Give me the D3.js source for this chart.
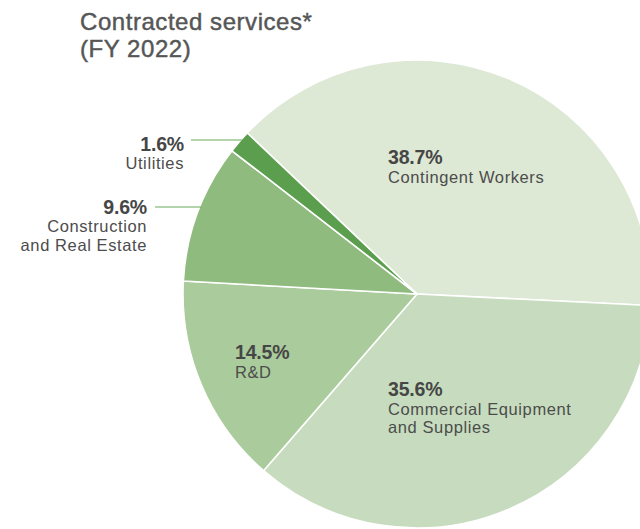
<!DOCTYPE html>
<html>
<head>
<meta charset="utf-8">
<script src="https://cdn.jsdelivr.net/npm/d3@7"></script>
<style>
  html, body { margin: 0; padding: 0; background: #fff; }
  svg { display: block; }
  .title { font-family: "Liberation Sans", Arial, sans-serif; font-size: 24px; letter-spacing: 0.55px; fill: #565656; stroke: #565656; stroke-width: 0.45px; }
  .pct { font-family: "Liberation Sans", Arial, sans-serif; font-weight: bold; font-size: 19.5px; letter-spacing: -0.2px; fill: #464646; }
  .name { font-family: "Liberation Sans", Arial, sans-serif; font-size: 16.5px; letter-spacing: 0.6px; fill: #4c4c4c; }
</style>
</head>
<body>
<svg id="chart" width="640" height="529"></svg>
<script>
// Contracted services share by category, FY 2022
const categories = ["Contingent Workers", "Commercial Equipment and Supplies", "R&D", "Construction and Real Estate", "Utilities"];
const shares = [38.7, 35.6, 14.5, 9.6, 1.6];
const nameLines = [["Contingent Workers"], ["Commercial Equipment", "and Supplies"], ["R&D"], ["Construction", "and Real Estate"], ["Utilities"]];
const colors = ["#dde8d5", "#c7dcbe", "#aacb9b", "#8fbb7f", "#5a9e4e"];

const svg = d3.select("#chart");
const cx = 417, cy = 294, r = 234;
const deg = Math.PI / 180;

const pie = d3.pie().sort(null).value(d => d)
  .startAngle(-46.5 * deg).endAngle(313.5 * deg);
const arcs = pie(shares);
const arc = d3.arc().innerRadius(0).outerRadius(r);

const g = svg.append("g").attr("transform", `translate(${cx},${cy})`);
g.selectAll("path").data(arcs).join("path")
  .attr("d", arc)
  .attr("fill", (d, i) => colors[i])
  .attr("stroke", "#fff")
  .attr("stroke-width", 1.6)
  .attr("stroke-linejoin", "round");

// Title
const title = svg.append("text").attr("class", "title").attr("x", 80).attr("y", 30);
title.append("tspan").attr("x", 80).attr("dy", 0).text("Contracted services*");
title.append("tspan").attr("x", 80).attr("dy", 27).text("(FY 2022)");

// Label placement: [x, y of percent baseline, anchor]
const labelPos = [
  [388, 164, "start"],
  [388, 396, "start"],
  [235, 359, "start"],
  [147, 214, "end"],
  [184, 151, "end"]
];
const lineGap = [18.5, 18.5, 18.5, 18, 17.5];

labelPos.forEach((p, i) => {
  svg.append("text").attr("class", "pct").attr("x", p[0]).attr("y", p[1])
    .attr("text-anchor", p[2]).text(d3.format(".1f")(shares[i]) + "%");
  const nm = svg.append("text").attr("class", "name")
    .attr("x", p[0]).attr("y", p[1] + lineGap[i])
    .attr("text-anchor", p[2]);
  nameLines[i].forEach((ln, j) => {
    nm.append("tspan").attr("x", p[0]).attr("dy", j === 0 ? 0 : 18.5).text(ln);
  });
});

// Leader lines for the two small outside-labelled slices
const leaders = [
  { i: 4, x0: 191, y: 140 },
  { i: 3, x0: 155, y: 207 }
];
leaders.forEach(L => {
  const dy = L.y - cy;
  const x1 = cx - Math.sqrt(r * r - dy * dy) + 2;
  svg.append("line")
    .attr("x1", L.x0).attr("x2", x1)
    .attr("y1", L.y).attr("y2", L.y)
    .attr("stroke", "#6aaa5a").attr("stroke-width", 1.2);
});
</script>
</body>
</html>
